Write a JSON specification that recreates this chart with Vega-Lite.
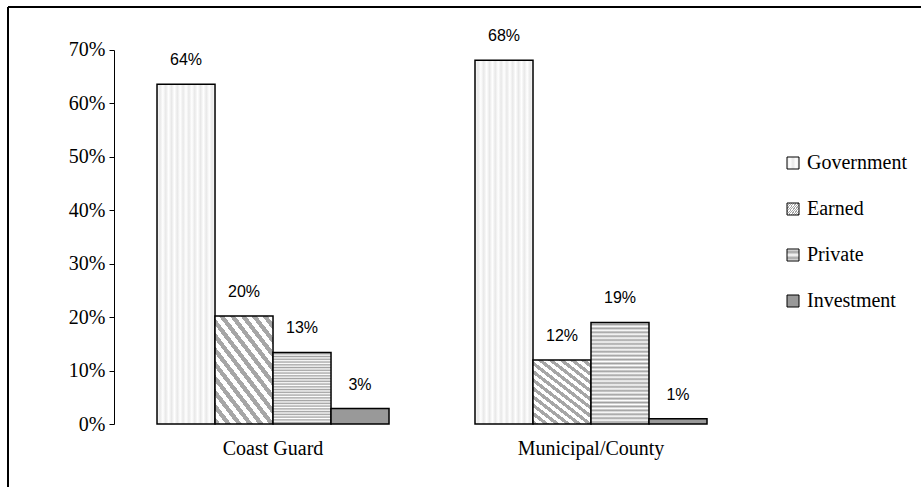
{
  "$schema": "https://vega.github.io/schema/vega-lite/v6.json",
  "width": 913,
  "height": 480,
  "autosize": {"type": "none"},
  "padding": {"left": 8, "top": 7, "right": 0, "bottom": 0},
  "background": "white",
  "config": {
    "view": {"stroke": "black", "strokeWidth": 2, "strokeDash": [913, 1393, 480, 0]},
    "axis": {"labelFont": "Liberation Serif", "labelFontSize": 20, "labelColor": "black", "grid": false, "title": null}
  },
  "params": [
    {"name": "gGov", "value": {"gradient": "linear", "x1": 0, "y1": 0, "x2": 1, "y2": 0, "stops": [
      {"offset": 0, "color": "#ffffff"}, {"offset": 0.05, "color": "#e8e8e8"},
      {"offset": 0.1, "color": "#ffffff"}, {"offset": 0.15, "color": "#e8e8e8"},
      {"offset": 0.2, "color": "#ffffff"}, {"offset": 0.25, "color": "#e8e8e8"},
      {"offset": 0.3, "color": "#ffffff"}, {"offset": 0.35, "color": "#e8e8e8"},
      {"offset": 0.4, "color": "#ffffff"}, {"offset": 0.45, "color": "#e8e8e8"},
      {"offset": 0.5, "color": "#ffffff"}, {"offset": 0.55, "color": "#e8e8e8"},
      {"offset": 0.6, "color": "#ffffff"}, {"offset": 0.65, "color": "#e8e8e8"},
      {"offset": 0.7, "color": "#ffffff"}, {"offset": 0.75, "color": "#e8e8e8"},
      {"offset": 0.8, "color": "#ffffff"}, {"offset": 0.85, "color": "#e8e8e8"},
      {"offset": 0.9, "color": "#ffffff"}, {"offset": 0.95, "color": "#e8e8e8"},
      {"offset": 1, "color": "#ffffff"}
    ]}},
    {"name": "gEarned", "value": {"gradient": "linear", "x1": 0, "y1": 1, "x2": 0.799, "y2": -0.141, "stops": [
      {"offset": 0, "color": "#a6a6a6"}, {"offset": 0.03846, "color": "#a6a6a6"},
      {"offset": 0.03846, "color": "#ffffff"}, {"offset": 0.07692, "color": "#ffffff"},
      {"offset": 0.07692, "color": "#a6a6a6"}, {"offset": 0.11538, "color": "#a6a6a6"},
      {"offset": 0.11538, "color": "#ffffff"}, {"offset": 0.15385, "color": "#ffffff"},
      {"offset": 0.15385, "color": "#a6a6a6"}, {"offset": 0.19231, "color": "#a6a6a6"},
      {"offset": 0.19231, "color": "#ffffff"}, {"offset": 0.23077, "color": "#ffffff"},
      {"offset": 0.23077, "color": "#a6a6a6"}, {"offset": 0.26923, "color": "#a6a6a6"},
      {"offset": 0.26923, "color": "#ffffff"}, {"offset": 0.30769, "color": "#ffffff"},
      {"offset": 0.30769, "color": "#a6a6a6"}, {"offset": 0.34615, "color": "#a6a6a6"},
      {"offset": 0.34615, "color": "#ffffff"}, {"offset": 0.38462, "color": "#ffffff"},
      {"offset": 0.38462, "color": "#a6a6a6"}, {"offset": 0.42308, "color": "#a6a6a6"},
      {"offset": 0.42308, "color": "#ffffff"}, {"offset": 0.46154, "color": "#ffffff"},
      {"offset": 0.46154, "color": "#a6a6a6"}, {"offset": 0.5, "color": "#a6a6a6"},
      {"offset": 0.5, "color": "#ffffff"}, {"offset": 0.53846, "color": "#ffffff"},
      {"offset": 0.53846, "color": "#a6a6a6"}, {"offset": 0.57692, "color": "#a6a6a6"},
      {"offset": 0.57692, "color": "#ffffff"}, {"offset": 0.61538, "color": "#ffffff"},
      {"offset": 0.61538, "color": "#a6a6a6"}, {"offset": 0.65385, "color": "#a6a6a6"},
      {"offset": 0.65385, "color": "#ffffff"}, {"offset": 0.69231, "color": "#ffffff"},
      {"offset": 0.69231, "color": "#a6a6a6"}, {"offset": 0.73077, "color": "#a6a6a6"},
      {"offset": 0.73077, "color": "#ffffff"}, {"offset": 0.76923, "color": "#ffffff"},
      {"offset": 0.76923, "color": "#a6a6a6"}, {"offset": 0.80769, "color": "#a6a6a6"},
      {"offset": 0.80769, "color": "#ffffff"}, {"offset": 0.84615, "color": "#ffffff"},
      {"offset": 0.84615, "color": "#a6a6a6"}, {"offset": 0.88462, "color": "#a6a6a6"},
      {"offset": 0.88462, "color": "#ffffff"}, {"offset": 0.92308, "color": "#ffffff"},
      {"offset": 0.92308, "color": "#a6a6a6"}, {"offset": 0.96154, "color": "#a6a6a6"},
      {"offset": 0.96154, "color": "#ffffff"}, {"offset": 1, "color": "#ffffff"}
    ]}},
    {"name": "gPrivate", "value": {"gradient": "linear", "x1": 0, "y1": 0, "x2": 0, "y2": 1, "stops": [
      {"offset": 0, "color": "#ffffff"}, {"offset": 0.01923, "color": "#a0a0a0"},
      {"offset": 0.03846, "color": "#ffffff"}, {"offset": 0.05769, "color": "#a0a0a0"},
      {"offset": 0.07692, "color": "#ffffff"}, {"offset": 0.09615, "color": "#a0a0a0"},
      {"offset": 0.11538, "color": "#ffffff"}, {"offset": 0.13462, "color": "#a0a0a0"},
      {"offset": 0.15385, "color": "#ffffff"}, {"offset": 0.17308, "color": "#a0a0a0"},
      {"offset": 0.19231, "color": "#ffffff"}, {"offset": 0.21154, "color": "#a0a0a0"},
      {"offset": 0.23077, "color": "#ffffff"}, {"offset": 0.25, "color": "#a0a0a0"},
      {"offset": 0.26923, "color": "#ffffff"}, {"offset": 0.28846, "color": "#a0a0a0"},
      {"offset": 0.30769, "color": "#ffffff"}, {"offset": 0.32692, "color": "#a0a0a0"},
      {"offset": 0.34615, "color": "#ffffff"}, {"offset": 0.36538, "color": "#a0a0a0"},
      {"offset": 0.38462, "color": "#ffffff"}, {"offset": 0.40385, "color": "#a0a0a0"},
      {"offset": 0.42308, "color": "#ffffff"}, {"offset": 0.44231, "color": "#a0a0a0"},
      {"offset": 0.46154, "color": "#ffffff"}, {"offset": 0.48077, "color": "#a0a0a0"},
      {"offset": 0.5, "color": "#ffffff"}, {"offset": 0.51923, "color": "#a0a0a0"},
      {"offset": 0.53846, "color": "#ffffff"}, {"offset": 0.55769, "color": "#a0a0a0"},
      {"offset": 0.57692, "color": "#ffffff"}, {"offset": 0.59615, "color": "#a0a0a0"},
      {"offset": 0.61538, "color": "#ffffff"}, {"offset": 0.63462, "color": "#a0a0a0"},
      {"offset": 0.65385, "color": "#ffffff"}, {"offset": 0.67308, "color": "#a0a0a0"},
      {"offset": 0.69231, "color": "#ffffff"}, {"offset": 0.71154, "color": "#a0a0a0"},
      {"offset": 0.73077, "color": "#ffffff"}, {"offset": 0.75, "color": "#a0a0a0"},
      {"offset": 0.76923, "color": "#ffffff"}, {"offset": 0.78846, "color": "#a0a0a0"},
      {"offset": 0.80769, "color": "#ffffff"}, {"offset": 0.82692, "color": "#a0a0a0"},
      {"offset": 0.84615, "color": "#ffffff"}, {"offset": 0.86538, "color": "#a0a0a0"},
      {"offset": 0.88462, "color": "#ffffff"}, {"offset": 0.90385, "color": "#a0a0a0"},
      {"offset": 0.92308, "color": "#ffffff"}, {"offset": 0.94231, "color": "#a0a0a0"},
      {"offset": 0.96154, "color": "#ffffff"}, {"offset": 0.98077, "color": "#a0a0a0"},
      {"offset": 1, "color": "#ffffff"}
    ]}}
  ],
  "data": {
    "values": [
      {"sector": "Coast Guard", "source": "Government", "share": 0.636},
      {"sector": "Coast Guard", "source": "Earned", "share": 0.202},
      {"sector": "Coast Guard", "source": "Private", "share": 0.134},
      {"sector": "Coast Guard", "source": "Investment", "share": 0.029},
      {"sector": "Municipal/County", "source": "Government", "share": 0.681},
      {"sector": "Municipal/County", "source": "Earned", "share": 0.12},
      {"sector": "Municipal/County", "source": "Private", "share": 0.19},
      {"sector": "Municipal/County", "source": "Investment", "share": 0.01}
    ]
  },
  "encoding": {
    "x": {
      "field": "sector", "type": "nominal",
      "scale": {"domain": ["Coast Guard", "Municipal/County"], "paddingInner": 0.2704, "paddingOuter": 0.5708, "align": 0.4105},
      "axis": {"labelAngle": 0, "domain": false, "ticks": false, "labelPadding": 14, "offset": -63}
    },
    "xOffset": {
      "field": "source", "type": "nominal",
      "scale": {"domain": ["Government", "Earned", "Private", "Investment"], "paddingInner": 0, "paddingOuter": 0}
    },
    "y": {
      "field": "share", "type": "quantitative", "stack": null,
      "scale": {"domain": [-0.11791, 0.78048], "nice": false, "zero": false},
      "axis": {
        "values": [0, 0.1, 0.2, 0.3, 0.4, 0.5, 0.6, 0.7],
        "format": ".0%", "offset": -106, "tickSize": 5, "tickColor": "black", "tickWidth": 1,
        "domainColor": "black", "domainWidth": 1, "domainDash": [0, 63, 374, 1000], "labelPadding": 4
      }
    }
  },
  "layer": [
    {
      "mark": {"type": "bar", "stroke": "black", "strokeWidth": 1.5},
      "encoding": {
        "y2": {"datum": 0},
        "color": {
          "field": "source", "type": "nominal",
          "scale": {
            "domain": ["Government", "Earned", "Private", "Investment"],
            "range": [{"expr": "gGov"}, {"expr": "gEarned"}, {"expr": "gPrivate"}, "#999999"]
          },
          "legend": {
            "orient": "none", "legendX": 775, "legendY": 146, "title": null,
            "symbolType": "square", "symbolSize": 144, "symbolStrokeColor": "black", "symbolStrokeWidth": 1,
            "labelFont": "Liberation Serif", "labelFontSize": 20, "labelColor": "black", "labelOffset": 4,
            "rowPadding": 26, "padding": 0
          }
        }
      }
    },
    {
      "mark": {"type": "text", "baseline": "middle", "dy": -24, "font": "Liberation Sans", "fontSize": 16, "color": "black"},
      "encoding": {"text": {"field": "share", "type": "quantitative", "format": ".0%"}}
    }
  ]
}
